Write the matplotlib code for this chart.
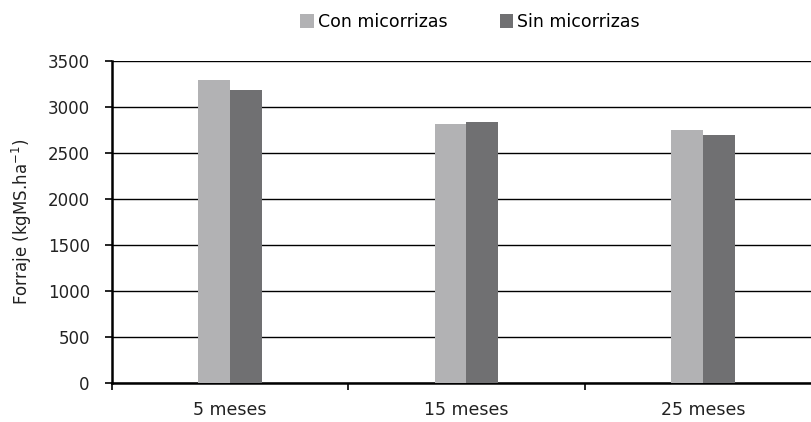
import numpy as np
import matplotlib
matplotlib.use('Agg')
import matplotlib.pyplot as plt

categorias = ['5 meses', '15 meses', '25 meses']
con_micorrizas = [3290, 2815, 2750]
sin_micorrizas = [3185, 2835, 2695]
series = ['Con micorrizas', 'Sin micorrizas']
colores = ['#b2b2b4', '#707072']

plt.rcParams['font.family'] = ['DejaVu Sans']
plt.rcParams['font.size'] = 12

fig = plt.figure(figsize=(8.11, 4.22), dpi=100)
ax = fig.add_axes([112/811, 39/422, (821-112)/811, (383-61)/422])

x = np.arange(len(categorias))
w = 0.135
ax.bar(x - w/2, con_micorrizas, w, color=colores[0], label=series[0], zorder=3)
ax.bar(x + w/2, sin_micorrizas, w, color=colores[1], label=series[1], zorder=3)

ax.set_xlim(-0.5, 2.5)
ax.set_ylim(0, 3500)
ax.set_yticks(np.arange(0, 3501, 500))
ax.yaxis.grid(True, color='black', lw=1.0, zorder=0)
ax.set_axisbelow(True)

ax.set_xticks(x)
ax.set_xticklabels(categorias, fontsize=12.5)
ax.set_xticks([-0.5, 0.5, 1.5], minor=True)
ax.tick_params(axis='x', which='major', length=0, pad=13, colors='#222222')
ax.tick_params(axis='x', which='minor', length=5, width=1.2, direction='out')
ax.tick_params(axis='y', length=5, width=1.2, direction='out', pad=11, colors='#222222')
ax.tick_params(axis='y', color='black')

for s in ['top', 'right']:
    ax.spines[s].set_visible(False)
for s in ['left', 'bottom']:
    ax.spines[s].set_linewidth(1.8)
    ax.spines[s].set_color('black')

ax.set_ylabel('Forraje (kgMS.ha$^{-1}$)', color='#222222', labelpad=10)

fig.legend(loc='center', bbox_to_anchor=(470/811, 1 - 22/422), ncol=2, frameon=False,
           handlelength=0.8, handleheight=0.8, handletextpad=0.2, columnspacing=3.0,
           fontsize=12.5)

fig.savefig('out.png', dpi=100)
